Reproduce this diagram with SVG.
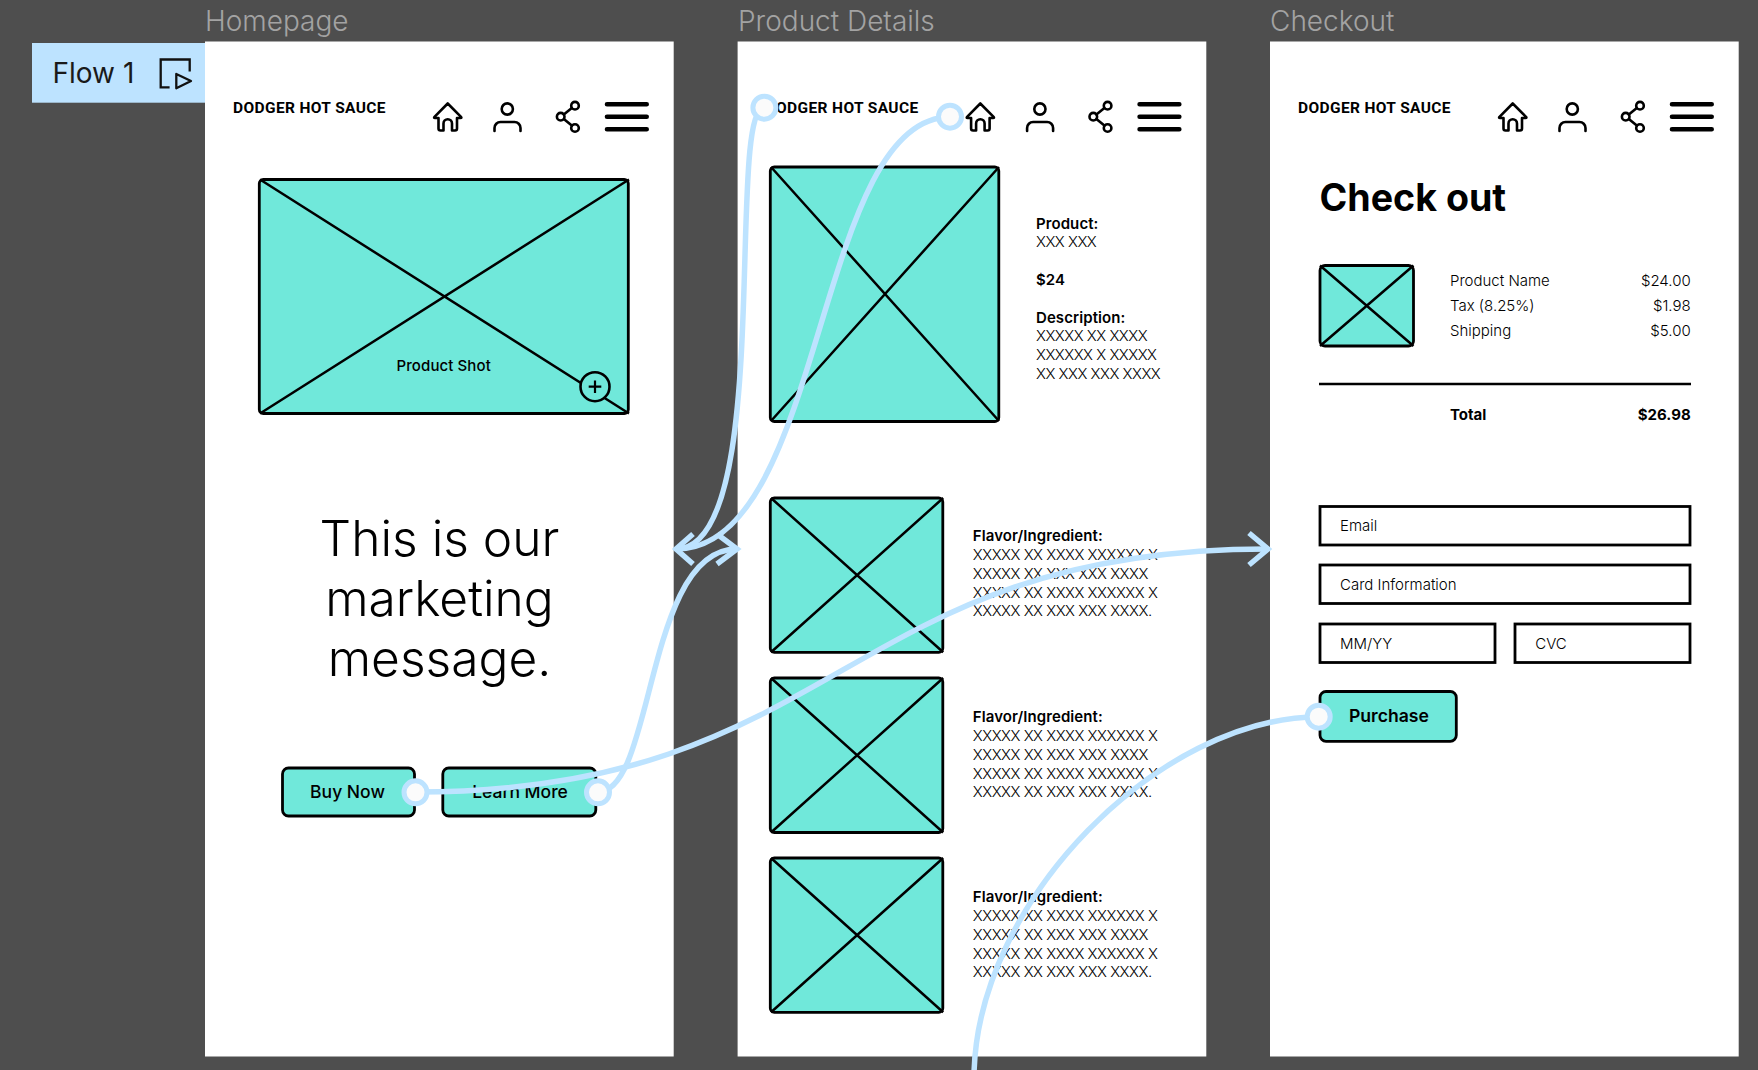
<svg xmlns="http://www.w3.org/2000/svg" xmlns:xlink="http://www.w3.org/1999/xlink" width="1758" height="1070" viewBox="0 0 1758 1070">
<style>
text{font-family:"Inter","Liberation Sans",sans-serif;fill:#000}
.title{font-size:28px;fill:#a3a3a3;font-weight:300}
.frame{fill:#fff}
.logo{font-family:"Roboto","Liberation Sans",sans-serif;font-size:15.5px;font-weight:700;letter-spacing:.37px}
.ph{fill:#70e8da;stroke:#000;stroke-width:2.8}
.x{stroke:#000;stroke-width:2.5;fill:none}
.ic{fill:none;stroke:#000;stroke-width:2.6;stroke-linecap:round;stroke-linejoin:round}
.bar{fill:none;stroke:#000;stroke-width:4.6;stroke-linecap:round}
.b{font-size:15px;font-weight:600;letter-spacing:.08px}
.l{font-size:15px;font-weight:300}
.xx{font-size:15px;font-weight:300;letter-spacing:-.5px}
.btn{font-size:17.5px;font-weight:500}
.msg{font-size:49.7px;font-weight:300;text-anchor:middle}
.field{fill:#fff;stroke:#000;stroke-width:2.8}
.r{text-anchor:end}
.conn{fill:none;stroke:#bde3ff;stroke-width:5.5}
.head{fill:none;stroke:#bde3ff;stroke-width:5.5}
.spot{fill:#fbfbfb;stroke:#bde3ff;stroke-width:5}
</style>
<defs>
<g id="hdr">
<path class="ic" d="M447.7 103.5L434.5 116.8Q433.5 118 435 118H438.5V128.5Q438.5 130.5 440.5 130.5H443.5V123.5A4.2 4.2 0 0 1 452 123.5V130.5H455Q457 130.5 457 128.5V118H460.5Q462 118 461 116.8Z"/>
<circle class="ic" cx="507.3" cy="109" r="5.6"/>
<path class="ic" d="M494.5 131V128A6 6 0 0 1 500.5 122H514.5A6 6 0 0 1 520.5 128V131"/>
<circle class="ic" cx="575" cy="105.7" r="3.8"/>
<circle class="ic" cx="560.7" cy="116.7" r="3.8"/>
<circle class="ic" cx="575" cy="128" r="3.8"/>
<path class="ic" d="M571.8 108L563.8 114.4M563.8 119L571.8 125.6"/>
<path class="bar" d="M607 104.3H646.7M607 116.7H646.7M607 129.3H646.7"/>
</g>
</defs>
<rect width="1758" height="1070" fill="#4e4e4e"/>
<g id="flow-tab">
<rect x="32" y="43" width="173" height="59.7" fill="#bde3ff"/>
<text x="52.5" y="82.5" font-size="28" style="font-weight:400;fill:#1a1a1a">Flow 1</text>
<path d="M189.7 71.5V59.5H160.7V87.3H169.6" fill="none" stroke="#111" stroke-width="2.3"/>
<path d="M176.3 74L191 81L176.3 88.3Z" fill="none" stroke="#111" stroke-width="2.3" stroke-linejoin="round"/>
</g>
<g id="homepage">
<text class="title" x="205" y="30.5">Homepage</text>
<rect class="frame" x="205" y="41.5" width="468.7" height="1015"/>
<text class="logo" x="233" y="113.3">DODGER HOT SAUCE</text>
<use xlink:href="#hdr" href="#hdr"/>
<g id="hero-image">
<rect class="ph" x="259.3" y="179.5" width="369" height="234" rx="4"/>
<path class="x" d="M260 179.5L629 413.5M629 179.5L260 413.5"/>
<text x="443.7" y="371" font-size="15" font-weight="500" text-anchor="middle" letter-spacing=".1">Product Shot</text>
<circle cx="595" cy="386.7" r="14.5" fill="#70e8da" stroke="#000" stroke-width="2.6"/>
<path d="M588.7 386.7H601.3M595 380.4V393" stroke="#000" stroke-width="2.2" fill="none"/>
</g>
<g id="marketing-message">
<text class="msg" x="439.5" y="556.3">This is our</text>
<text class="msg" x="439.5" y="616.3">marketing</text>
<text class="msg" x="439.5" y="676.3">message.</text>
</g>
<g id="buy-now">
<rect class="ph" x="282.5" y="768" width="132" height="48" rx="6"/>
<text class="btn" x="347.5" y="797.5" text-anchor="middle">Buy Now</text>
</g>
<g id="learn-more">
<rect class="ph" x="442.8" y="768" width="153" height="48" rx="6"/>
<text class="btn" x="520" y="797.5" text-anchor="middle">Learn More</text>
</g>
</g>
<g id="product-details">
<text class="title" x="738" y="30.5">Product Details</text>
<rect class="frame" x="737.6" y="41.5" width="468.7" height="1015"/>
<text class="logo" x="765.6" y="113.3">DODGER HOT SAUCE</text>
<use xlink:href="#hdr" href="#hdr" x="532.6"/>
<g id="product-image">
<rect class="ph" x="770.3" y="167" width="228.5" height="254.5" rx="4"/>
<path class="x" d="M771 167L999 421M999 167L771 421"/>
</g>
<g id="product-text">
<text class="b" x="1036" y="228.5">Product:</text>
<text class="xx" x="1036" y="247.3">XXX XXX</text>
<text class="b" x="1036" y="285">$24</text>
<text class="b" x="1036" y="322.5">Description:</text>
<text class="xx" x="1036" y="341.2">XXXXX XX XXXX</text>
<text class="xx" x="1036" y="360">XXXXXX X XXXXX</text>
<text class="xx" x="1036" y="378.7">XX XXX XXX XXXX</text>
</g>
<g id="flavor-1">
<rect class="ph" x="770.3" y="498" width="172.5" height="154.3" rx="4"/>
<path class="x" d="M771 498L943.2 652.3M943.2 498L771 652.3"/>
<text class="b" x="972.8" y="541.4">Flavor/Ingredient:</text>
<text class="xx" x="972.8" y="560.4">XXXXX XX XXXX XXXXXX X</text>
<text class="xx" x="972.8" y="579">XXXXX XX XXX XXX XXXX</text>
<text class="xx" x="972.8" y="597.7">XXXXX XX XXXX XXXXXX X</text>
<text class="xx" x="972.8" y="616.4">XXXXX XX XXX XXX XXXX.</text>
</g>
<g id="flavor-2">
<rect class="ph" x="770.3" y="678" width="172.5" height="154.5" rx="4"/>
<path class="x" d="M771 678L943.2 832.5M943.2 678L771 832.5"/>
<text class="b" x="972.8" y="722.4">Flavor/Ingredient:</text>
<text class="xx" x="972.8" y="741.4">XXXXX XX XXXX XXXXXX X</text>
<text class="xx" x="972.8" y="760">XXXXX XX XXX XXX XXXX</text>
<text class="xx" x="972.8" y="778.7">XXXXX XX XXXX XXXXXX X</text>
<text class="xx" x="972.8" y="797.4">XXXXX XX XXX XXX XXXX.</text>
</g>
<g id="flavor-3">
<rect class="ph" x="770.3" y="858" width="172.5" height="154.3" rx="4"/>
<path class="x" d="M771 858L943.2 1012.3M943.2 858L771 1012.3"/>
<text class="b" x="972.8" y="902.4">Flavor/Ingredient:</text>
<text class="xx" x="972.8" y="921.4">XXXXX XX XXXX XXXXXX X</text>
<text class="xx" x="972.8" y="940">XXXXX XX XXX XXX XXXX</text>
<text class="xx" x="972.8" y="958.7">XXXXX XX XXXX XXXXXX X</text>
<text class="xx" x="972.8" y="977.4">XXXXX XX XXX XXX XXXX.</text>
</g>
</g>
<g id="checkout">
<text class="title" x="1270" y="30.5">Checkout</text>
<rect class="frame" x="1270" y="41.5" width="468.7" height="1015"/>
<text class="logo" x="1298" y="113.3">DODGER HOT SAUCE</text>
<use xlink:href="#hdr" href="#hdr" x="1065"/>
<text x="1319.5" y="210.5" font-size="37.6" font-weight="700">Check out</text>
<g id="cart-thumb">
<rect class="ph" x="1320" y="265.5" width="93.5" height="80.5" rx="5"/>
<path class="x" d="M1320 265.5L1413.5 346M1413.5 265.5L1320 346"/>
</g>
<g id="summary">
<text class="l" x="1450" y="286.4">Product Name</text>
<text class="l r" x="1690.7" y="286.4">$24.00</text>
<text class="l" x="1450" y="311.4">Tax (8.25%)</text>
<text class="l r" x="1690.7" y="311.4">$1.98</text>
<text class="l" x="1450" y="336.4">Shipping</text>
<text class="l r" x="1690.7" y="336.4">$5.00</text>
<path d="M1319 384H1691" stroke="#000" stroke-width="2.6" fill="none"/>
<text x="1450" y="420" font-size="15" font-weight="700">Total</text>
<text x="1690.7" y="420" font-size="15" font-weight="700" text-anchor="end">$26.98</text>
</g>
<g id="email-field">
<rect class="field" x="1320" y="506.5" width="370" height="38.5"/>
<text class="l" x="1340" y="531">Email</text>
</g>
<g id="card-field">
<rect class="field" x="1320" y="565" width="370" height="38.5"/>
<text class="l" x="1340" y="590">Card Information</text>
</g>
<g id="expiry-field">
<rect class="field" x="1320" y="624" width="175" height="38.5"/>
<text class="l" x="1340" y="649.3">MM/YY</text>
</g>
<g id="cvc-field">
<rect class="field" x="1515" y="624" width="175" height="38.5"/>
<text class="l" x="1535.3" y="649.3">CVC</text>
</g>
<g id="purchase">
<rect class="ph" x="1320" y="691.5" width="136.3" height="49.8" rx="6"/>
<text x="1349" y="722" font-size="17.6" font-weight="600">Purchase</text>
</g>
</g>
<g id="connectors">
<path class="conn" d="M415.5 792C842 792 842 549 1268 549"/>
<path class="head" d="M1249 533L1268 549L1249 565"/>
<path class="conn" d="M598 792C655 792 645 549 737 549"/>
<path class="head" d="M717 534L737 549L717 564"/>
<path class="conn" d="M764.4 108C725 108 775 549 676 549"/>
<path class="conn" d="M950 117C815 117 825 549 676 549"/>
<path class="head" d="M693 534L676 549L693 564"/>
<path class="conn" d="M1318.7 717C1160 717 977 900 974 1075"/>
<circle class="spot" cx="415.5" cy="792.3" r="11.5"/>
<circle class="spot" cx="598" cy="792.3" r="11.5"/>
<circle class="spot" cx="764.4" cy="107.7" r="11.5"/>
<circle class="spot" cx="950" cy="116.7" r="11.5"/>
<circle class="spot" cx="1318.7" cy="716.7" r="11.5"/>
</g>
</svg>
